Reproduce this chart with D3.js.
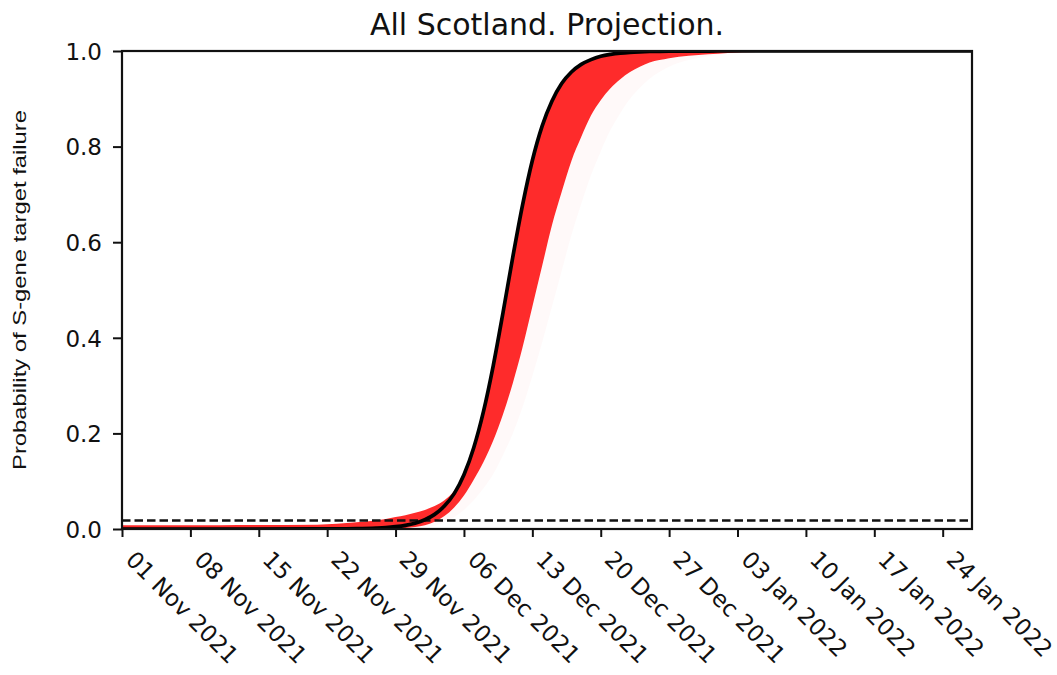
<!DOCTYPE html>
<html>
<head>
<meta charset="utf-8">
<script src="https://cdn.jsdelivr.net/npm/d3@7"></script>
<style>
  body { margin: 0; background: #fff; }
  svg { display: block; }
</style>
</head>
<body>
<div id="chart"></div>
<script>
// chart data (day offsets from 01 Nov 2021)
const start_date = new Date(2021, 10, 1);
const end_day = 87;
const days = [0, 10, 20, 22, 24, 26, 27, 28, 29, 30, 31, 32, 33, 34, 35, 36, 37, 38, 39, 40,
  41, 42, 43, 44, 45, 46, 47, 48, 49, 50, 51, 52, 53, 54, 55, 56, 58, 60, 62, 65, 68, 72, 78, 87];
const central = [0, 0, 0.0001, 0.0003, 0.0007, 0.0019, 0.003, 0.0049, 0.0077, 0.0122, 0.0194, 0.0306,
  0.048, 0.074, 0.1135, 0.170, 0.246, 0.342, 0.453, 0.569, 0.678, 0.771, 0.843, 0.895, 0.932, 0.956,
  0.972, 0.982, 0.989, 0.993, 0.9956, 0.9972, 0.9982, 0.9989, 0.9993, 0.9996, 0.9998, 0.9999, 1, 1, 1, 1, 1, 1];
const band_upper = [0.008, 0.008, 0.009, 0.011, 0.014, 0.018, 0.021, 0.025, 0.029, 0.034, 0.040, 0.048,
  0.060, 0.080, 0.1135, 0.170, 0.246, 0.342, 0.453, 0.569, 0.678, 0.771, 0.843, 0.895, 0.932, 0.956,
  0.972, 0.982, 0.989, 0.993, 0.9956, 0.9972, 0.9982, 0.9989, 0.9993, 0.9996, 0.9998, 0.9999, 1, 1, 1, 1, 1, 1];
const band_lower = [0, 0, 0, 0, 0, 0, 0.0005, 0.001, 0.002, 0.004, 0.008, 0.015, 0.027, 0.045, 0.07,
  0.103, 0.14, 0.185, 0.24, 0.305, 0.38, 0.465, 0.55, 0.635, 0.705, 0.77, 0.82, 0.865, 0.897, 0.922,
  0.941, 0.956, 0.967, 0.976, 0.981, 0.985, 0.99, 0.993, 0.996, 0.998, 0.999, 1, 1, 1];
const faint_lower = [0, 0, 0, 0, 0, 0, 0, 0, 0, 0, 0.003, 0.007, 0.014, 0.025, 0.04, 0.06, 0.085, 0.115,
  0.155, 0.2, 0.255, 0.32, 0.39, 0.465, 0.54, 0.615, 0.68, 0.74, 0.79, 0.835, 0.87, 0.9, 0.923, 0.942,
  0.956, 0.967, 0.981, 0.989, 0.994, 0.997, 0.998, 0.999, 1, 1];
const threshold = 0.018;
const x_tick_days = [0, 7, 14, 21, 28, 35, 42, 49, 56, 63, 70, 77, 84];
const y_ticks = [0, 0.2, 0.4, 0.6, 0.8, 1.0];
const title = "All Scotland. Projection.";
const y_label = "Probability of S-gene target failure";

const width = 1057, height = 675;
const margin = {left: 122, right: 85, top: 51, bottom: 146};
const font = "'DejaVu Sans', sans-serif";

function day_to_date(d){
  return d3.timeDay.offset(start_date, d);
}

let rows = days.map((d, i) => ({
  date: day_to_date(d),
  central: central[i],
  upper: band_upper[i],
  lower: band_lower[i],
  faint: faint_lower[i]
}));

let svg = d3.select("#chart").append("svg")
  .attr("width", width)
  .attr("height", height);

let x = d3.scaleTime()
  .domain([start_date, day_to_date(end_day)])
  .range([margin.left, width - margin.right]);
let y = d3.scaleLinear()
  .domain([0, 1])
  .range([height - margin.bottom, margin.top]);

svg.append("clipPath").attr("id", "plot-clip")
  .append("rect")
  .attr("x", margin.left).attr("y", margin.top)
  .attr("width", width - margin.left - margin.right)
  .attr("height", height - margin.top - margin.bottom);

let plot = svg.append("g").attr("clip-path", "url(#plot-clip)");

// faint sample trajectories
plot.append("path")
  .datum(rows)
  .attr("fill", "#ff3030")
  .attr("fill-opacity", 0.03)
  .attr("d", d3.area().curve(d3.curveMonotoneX)
    .x(d => x(d.date)).y0(d => y(d.faint)).y1(d => y(d.lower)));

// red band
plot.append("path")
  .datum(rows)
  .attr("fill", "#fe2b2b")
  .attr("d", d3.area().curve(d3.curveMonotoneX)
    .x(d => x(d.date)).y0(d => y(d.lower)).y1(d => y(d.upper)));

// threshold line
plot.append("line")
  .attr("x1", margin.left).attr("x2", width - margin.right)
  .attr("y1", y(threshold)).attr("y2", y(threshold))
  .attr("stroke", "#111")
  .attr("stroke-width", 2.5)
  .attr("stroke-dasharray", "8.5,4");

// central projection
plot.append("path")
  .datum(rows)
  .attr("fill", "none")
  .attr("stroke", "#000")
  .attr("stroke-width", 3.7)
  .attr("d", d3.line().curve(d3.curveMonotoneX)
    .x(d => x(d.date)).y(d => y(d.central)));

// axes
let x_axis = svg.append("g")
  .attr("transform", `translate(0,${height - margin.bottom})`)
  .call(d3.axisBottom(x)
    .tickValues(x_tick_days.map(day_to_date))
    .tickFormat(d3.timeFormat("%d %b %Y"))
    .tickSize(8));
x_axis.selectAll("text")
  .attr("text-anchor", "start")
  .attr("x", 0).attr("y", 0).attr("dy", null)
  .attr("transform", "translate(2,32) rotate(45)");

let y_axis = svg.append("g")
  .attr("transform", `translate(${margin.left},0)`)
  .call(d3.axisLeft(y)
    .tickValues(y_ticks)
    .tickFormat(d3.format(".1f"))
    .tickSize(9)
    .tickPadding(11));
y_axis.selectAll("text").attr("dy", "0.36em");

[x_axis, y_axis].forEach(a => {
  a.select(".domain").remove();
  a.selectAll("line").attr("stroke", "#111").attr("stroke-width", 2);
  a.selectAll("text")
    .attr("fill", "#111")
    .style("font-family", font)
    .style("font-size", "23px");
});

// frame
svg.append("rect")
  .attr("x", margin.left).attr("y", margin.top)
  .attr("width", width - margin.left - margin.right)
  .attr("height", height - margin.top - margin.bottom)
  .attr("fill", "none")
  .attr("stroke", "#111")
  .attr("stroke-width", 2.2);

// title
svg.append("text")
  .attr("x", (margin.left + width - margin.right) / 2)
  .attr("y", 35)
  .attr("text-anchor", "middle")
  .style("font-family", font)
  .style("font-size", "30px")
  .attr("fill", "#111")
  .text(title);

// y label
svg.append("text")
  .attr("transform", `translate(26,${(margin.top + height - margin.bottom) / 2}) rotate(-90)`)
  .attr("text-anchor", "middle")
  .attr("textLength", 360)
  .attr("lengthAdjust", "spacingAndGlyphs")
  .style("font-family", "'Liberation Sans', Arial, sans-serif")
  .style("font-size", "19px")
  .attr("fill", "#111")
  .text(y_label);
</script>
</body>
</html>
